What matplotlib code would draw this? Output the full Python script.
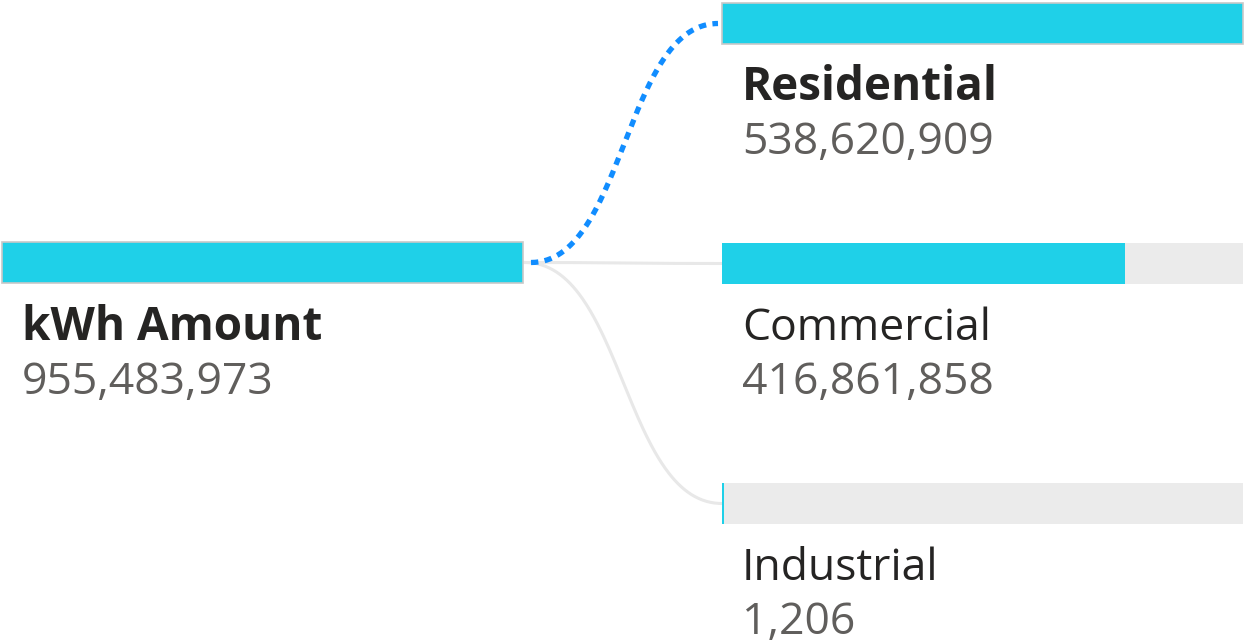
import numpy as np
import matplotlib
matplotlib.use("Agg")
import matplotlib.pyplot as plt
from matplotlib.patches import Rectangle

plt.rcParams["font.family"] = ["Open Sans", "DejaVu Sans"]

# dados da árvore de decomposição
raiz_nome = "kWh Amount"
raiz_valor = 955483973
categorias = ["Residential", "Commercial", "Industrial"]
valores = [538620909, 416861858, 1206]
selecionada = "Residential"

CIANO = "#1FD0E8"
FUNDO_BARRA = "#EBEBEB"
TEXTO = "#252423"
TEXTO_VALOR = "#605E5C"
AZUL = "#118DFF"

W, H = 1245, 644
fig = plt.figure(figsize=(W / 100, H / 100), dpi=100)
ax = fig.add_axes([0, 0, 1, 1])
ax.set_xlim(0, W)
ax.set_ylim(H, 0)
ax.axis("off")

LARG_BARRA = 521
ALT_BARRA = 41
TAM_FONTE = 32


def barra(ax, x, y, frac, borda):
    ax.add_patch(Rectangle((x, y), LARG_BARRA, ALT_BARRA, facecolor=FUNDO_BARRA,
                           edgecolor="none", zorder=2))
    ax.add_patch(Rectangle((x, y), max(LARG_BARRA * frac, 1.5), ALT_BARRA,
                           facecolor=CIANO, edgecolor="none", zorder=3))
    if borda:
        ax.add_patch(Rectangle((x, y), LARG_BARRA, ALT_BARRA, facecolor="none",
                               edgecolor="#C8C8C8", linewidth=1.2, zorder=4))


def curva(ax, x0, y0, x1, y1, **kw):
    t = np.linspace(0, 1, 200)
    xm = (x0 + x1) / 2
    px = (1 - t) ** 3 * x0 + 3 * (1 - t) ** 2 * t * xm + 3 * (1 - t) * t ** 2 * xm + t ** 3 * x1
    py = (1 - t) ** 3 * y0 + 3 * (1 - t) ** 2 * t * y0 + 3 * (1 - t) * t ** 2 * y1 + t ** 3 * y1
    ax.plot(px, py, **kw)


# nó raiz
x_raiz, y_raiz = 2, 242
barra(ax, x_raiz, y_raiz, 1.0, True)
ax.text(22, 340, raiz_nome, fontsize=TAM_FONTE + 1, fontweight="bold", color=TEXTO, va="baseline")
ax.text(22, 394, f"{raiz_valor:,}", fontsize=TAM_FONTE, color=TEXTO_VALOR, va="baseline")

# nós filhos
x_filho = 722
ys_filho = [3, 243, 483]
maximo = max(valores)
y_origem = y_raiz + ALT_BARRA / 2
for cat, val, y in zip(categorias, valores, ys_filho):
    ativo = cat == selecionada
    barra(ax, x_filho, y, val / maximo, ativo)
    y_dest = y + ALT_BARRA / 2
    if ativo:
        curva(ax, x_raiz + LARG_BARRA + 8, y_origem, x_filho - 4, y_dest,
              color=AZUL, linewidth=3.8, linestyle=(0, (1.4, 1.2)), zorder=5)
    else:
        curva(ax, x_raiz + LARG_BARRA + 2, y_origem, x_filho, y_dest,
              color="#E8E8E8", linewidth=2.2, zorder=1)
    ax.text(742, y + 97, cat, fontsize=TAM_FONTE + (1 if ativo else 0),
            fontweight="bold" if ativo else "normal", color=TEXTO, va="baseline")
    ax.text(742, y + 151, f"{val:,}", fontsize=TAM_FONTE, color=TEXTO_VALOR, va="baseline")

fig.savefig("out.png", dpi=100, facecolor="white")
